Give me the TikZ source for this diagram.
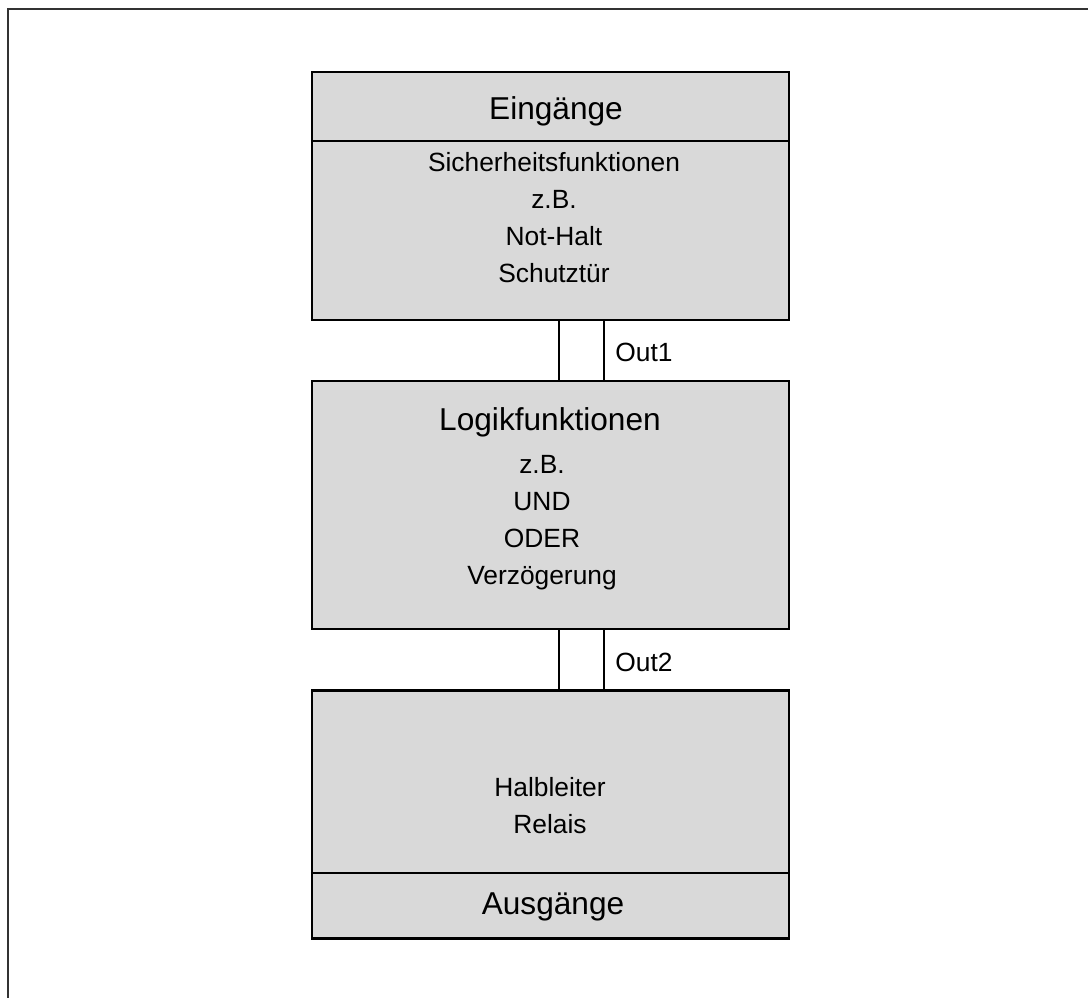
\documentclass[tikz,border=0pt]{standalone}
\usepackage{fontspec}
\setmainfont{Liberation Sans}
\usepackage{xcolor}
\usepackage{tikz}

\definecolor{boxgray}{HTML}{D9D9D9}

\tikzset{
  blk/.style={draw=black, line width=1.2pt, fill=boxgray, minimum width=9.54cm, minimum height=4.96cm, inner sep=0pt},
  wire/.style={draw=black, line width=0.6pt},
  txt/.style={anchor=base, inner sep=0pt, font=\fontsize{15}{18}\selectfont},
  head/.style={anchor=base, inner sep=0pt, font=\fontsize{18}{21}\selectfont},
}

\begin{document}
\begin{tikzpicture}[x=0.02cm, y=-0.02cm]
\useasboundingbox (0,0) rectangle (1088,998);
% frame, only top and left edge
\draw[line width=1.1pt, color=black!80] (1088,9) -- (8,9) -- (8,998);

% the three blocks
\node[blk] (box1) at (550.5,196) {};
\node[blk] (box2) at (550.5,505) {};
\node[blk] (box3) at (550.5,814.5) {};
\draw[line width=1.2pt] (box1.west |- 0,141) -- (box1.east |- 0,141);
\draw[line width=1.2pt] (box3.west |- 0,873) -- (box3.east |- 0,873);

% inputs
\node[head] (ein) at (556,119) {Eingänge};
\foreach \t [count=\i] in {Sicherheitsfunktionen, z.B., Not-Halt, Schutztür} {
\node[txt] (ein\i) at (554,171+37.3*\i-37.3) {\t};
}

% logic
\node[head] (logik) at (550,430) {Logikfunktionen};
\foreach \t [count=\i] in {z.B., UND, ODER, Verzögerung} {
\node[txt] (logik\i) at (542,473+37.3*\i-37.3) {\t};
}

% outputs
\foreach \t [count=\i] in {Halbleiter, Relais} {
\node[txt] (aus\i) at (550,796+37.3*\i-37.3) {\t};
}
\node[head] (aus) at (553,914) {Ausgänge};

% double lines between the blocks
\foreach \s in {0.17cm,1.07cm} {
\draw[wire] ([xshift=\s]box1.south) -- ([xshift=\s]box2.north);
\draw[wire] ([xshift=\s]box2.south) -- ([xshift=\s]box3.north);
}
\node[txt, anchor=base west] (out1) at (615,361) {Out1};
\node[txt, anchor=base west] (out2) at (615,671) {Out2};

\end{tikzpicture}
\end{document}
